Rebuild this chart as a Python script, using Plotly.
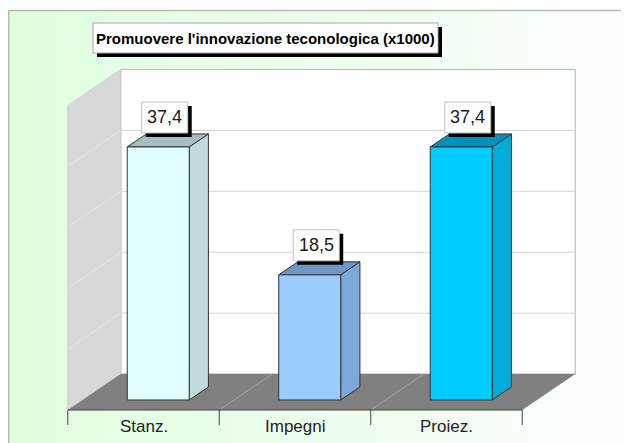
import plotly.graph_objects as go

# ---------------- data ----------------
categories = ["Stanz.", "Impegni", "Proiez."]
values = [37.4, 18.5, 37.4]
value_labels = ["37,4", "18,5", "37,4"]
title_text = "Promuovere l'innovazione teconologica (x1000)"
axis_max = 45
grid_step = 9

# ---------------- style ----------------
front_colors = ["#e0ffff", "#99ccff", "#00ccff"]
side_colors = ["#c2dada", "#7ea8d8", "#00acd8"]
top_colors = ["#a6bebe", "#6e96c6", "#0092ba"]
EDGE = "#333333"
FONT = "Arial, Liberation Sans, sans-serif"

OFF = 8                      # page body margin
W, H = 629 - OFF, 443 - OFF  # figure size
PX_X = 151.5      # pixels per category step
PX_Y = 6.765      # pixels per value unit
X0_PX = 143.5 - OFF   # pixel x of first category centre (front plane)
Y0_PX = 410.0 - OFF   # pixel y of value 0 (front plane)

x_range = [-X0_PX / PX_X, (W - X0_PX) / PX_X]
y_range = [-(H - Y0_PX) / PX_Y, Y0_PX / PX_Y]


def dxp(px):
    return px / PX_X


def dyp(px):
    return px / PX_Y


def px_paper_x(px):  # px in reference-window pixels
    return (px - OFF) / W


def px_paper_y(px):
    return 1 - (px - OFF) / H


DEPTH_X = dxp(53)
DEPTH_Y = dyp(36)
F0, F1 = 0.278, 0.64          # bar front / back depth fractions
n = len(categories)
x_left_edge = -0.5
x_right_edge = n - 0.5

shapes = []
annotations = []

# ---- background gradient ----
N_STRIPS = 60
c0 = (223, 253, 223)
c1 = (253, 255, 253)
left_px = 8.5
for k in range(N_STRIPS):
    t = k / (N_STRIPS - 1)
    col = "rgb(%d,%d,%d)" % tuple(round(a + (b - a) * t) for a, b in zip(c0, c1))
    xa = left_px + (629 - left_px) * k / N_STRIPS
    xb = left_px + (629 - left_px) * (k + 1) / N_STRIPS + 1
    shapes.append(dict(type="rect", xref="paper", yref="paper", layer="below",
                       x0=px_paper_x(xa), x1=px_paper_x(xb),
                       y0=0, y1=px_paper_y(10.5), fillcolor=col, line=dict(width=0)))
# outer border
shapes.append(dict(type="path", xref="paper", yref="paper", layer="below",
                   path="M %f,0 L %f,%f L 1,%f" % (px_paper_x(8.8), px_paper_x(8.8), px_paper_y(10.5), px_paper_y(10.5)),
                   line=dict(color="#b8b8b8", width=1.5)))


def poly(pts):
    return "M " + " L ".join("%f,%f" % p for p in pts) + " Z"


# ---- walls & floor ----
wall_top = axis_max
shapes.append(dict(type="rect", xref="x", yref="y", layer="below",
                   x0=x_left_edge + DEPTH_X, x1=x_right_edge + DEPTH_X,
                   y0=DEPTH_Y, y1=DEPTH_Y + wall_top,
                   fillcolor="white", line=dict(color="#c8c8c8", width=1.5)))
shapes.append(dict(type="path", xref="x", yref="y", layer="below",
                   path=poly([(x_left_edge, 0), (x_left_edge, wall_top),
                              (x_left_edge + DEPTH_X, DEPTH_Y + wall_top),
                              (x_left_edge + DEPTH_X, DEPTH_Y)]),
                   fillcolor="#d8d8d8", line=dict(color="#cfcfcf", width=1)))
g = grid_step
while g < axis_max - 1e-9:
    shapes.append(dict(type="line", xref="x", yref="y", layer="below",
                       x0=x_left_edge + DEPTH_X, x1=x_right_edge + DEPTH_X,
                       y0=DEPTH_Y + g, y1=DEPTH_Y + g,
                       line=dict(color="#d4d4d4", width=1)))
    shapes.append(dict(type="line", xref="x", yref="y", layer="below",
                       x0=x_left_edge, x1=x_left_edge + DEPTH_X,
                       y0=g, y1=DEPTH_Y + g,
                       line=dict(color="#e6e6e6", width=1)))
    g += grid_step
shapes.append(dict(type="path", xref="x", yref="y", layer="below",
                   path=poly([(x_left_edge, 0), (x_right_edge, 0),
                              (x_right_edge + DEPTH_X, DEPTH_Y),
                              (x_left_edge + DEPTH_X, DEPTH_Y)]),
                   fillcolor="#808080", line=dict(width=0)))
for i in range(1, n):
    xd = i - 0.5
    shapes.append(dict(type="line", xref="x", yref="y", layer="below",
                       x0=xd, x1=xd + DEPTH_X, y0=0, y1=DEPTH_Y,
                       line=dict(color="#a4a4a4", width=1)))
shapes.append(dict(type="line", xref="x", yref="y", layer="below",
                   x0=x_left_edge, x1=x_right_edge, y0=0, y1=0,
                   line=dict(color="#444444", width=1)))
for i in range(n + 1):
    xd = i - 0.5
    shapes.append(dict(type="line", xref="x", yref="y", layer="below",
                       x0=xd, x1=xd, y0=0, y1=-dyp(15),
                       line=dict(color="#444444", width=1)))
for i, c in enumerate(categories):
    annotations.append(dict(x=i, y=-dyp(16), xref="x", yref="y", text=c,
                            showarrow=False, xanchor="center", yanchor="middle",
                            font=dict(family=FONT, size=17, color="#222222")))

# ---- bars ----
bar_w = dxp(62)
base = F0 * DEPTH_Y
xs = [i + F0 * DEPTH_X for i in range(n)]
ddx = (F1 - F0) * DEPTH_X
ddy = (F1 - F0) * DEPTH_Y

fig = go.Figure()
fig.add_trace(go.Bar(x=xs, y=values, base=[base] * n, width=bar_w,
                     marker=dict(color=front_colors, line=dict(color=EDGE, width=1)),
                     hoverinfo="skip", showlegend=False))

for i, v in enumerate(values):
    xl = xs[i] - bar_w / 2
    xr = xs[i] + bar_w / 2
    top = base + v
    shapes.append(dict(type="path", xref="x", yref="y", layer="below",
                       path=poly([(xr, base), (xr, top), (xr + ddx, top + ddy), (xr + ddx, base + ddy)]),
                       fillcolor=side_colors[i], line=dict(color=EDGE, width=1)))
    shapes.append(dict(type="path", xref="x", yref="y", layer="below",
                       path=poly([(xl, top), (xr, top), (xr + ddx, top + ddy), (xl + ddx, top + ddy)]),
                       fillcolor=top_colors[i], line=dict(color=EDGE, width=1)))
    cx = xs[i] + dxp(6.5)
    yb = top + dyp(14)
    yt = yb + dyp(31)
    hw = dxp(23)
    shapes.append(dict(type="rect", xref="x", yref="y", layer="above",
                       x0=cx - hw + dxp(4), x1=cx + hw + dxp(4),
                       y0=yb - dyp(4), y1=yt - dyp(4),
                       fillcolor="black", line=dict(width=0)))
    shapes.append(dict(type="rect", xref="x", yref="y", layer="above",
                       x0=cx - hw, x1=cx + hw, y0=yb, y1=yt,
                       fillcolor="white", line=dict(color="#c0c0c0", width=1)))
    annotations.append(dict(x=cx, y=(yb + yt) / 2, xref="x", yref="y",
                            text=value_labels[i], showarrow=False,
                            xanchor="center", yanchor="middle",
                            font=dict(family=FONT, size=18, color="#1a1a1a")))

# ---- title box ----
tx0, tx1, ty0, ty1 = 93, 438, 23, 53
shapes.append(dict(type="rect", xref="paper", yref="paper", layer="above",
                   x0=px_paper_x(tx0 + 4), x1=px_paper_x(tx1 + 4),
                   y0=px_paper_y(ty1 + 4), y1=px_paper_y(ty0 + 4),
                   fillcolor="black", line=dict(width=0)))
shapes.append(dict(type="rect", xref="paper", yref="paper", layer="above",
                   x0=px_paper_x(tx0), x1=px_paper_x(tx1),
                   y0=px_paper_y(ty1), y1=px_paper_y(ty0),
                   fillcolor="white", line=dict(color="#a8a8a8", width=1)))
annotations.append(dict(x=px_paper_x((tx0 + tx1) / 2), y=px_paper_y((ty0 + ty1) / 2),
                        xref="paper", yref="paper", text="<b>%s</b>" % title_text,
                        showarrow=False, xanchor="center", yanchor="middle",
                        font=dict(family=FONT, size=15, color="black")))

fig.update_layout(
    width=W, height=H,
    margin=dict(l=0, r=0, t=0, b=0, pad=0),
    paper_bgcolor="white", plot_bgcolor="white",
    xaxis=dict(range=x_range, visible=False, fixedrange=True),
    yaxis=dict(range=y_range, visible=False, fixedrange=True),
    shapes=shapes, annotations=annotations,
    showlegend=False,
)

fig.write_html("out.html", config={"displayModeBar": False, "staticPlot": True})
